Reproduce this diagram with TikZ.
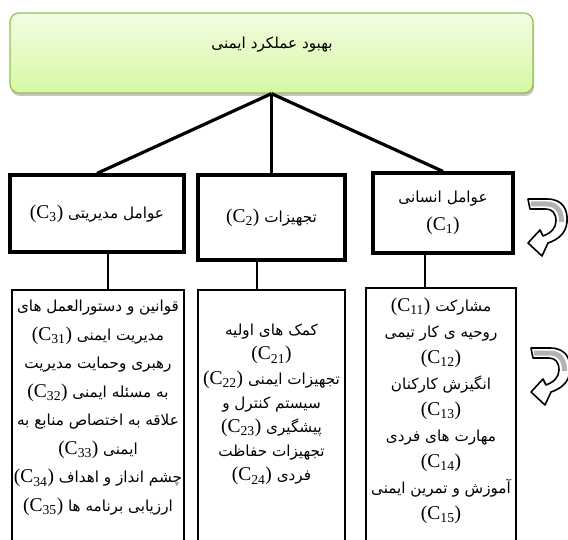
\documentclass[tikz,border=0pt]{standalone}
\usepackage{fontspec}
\setmainfont{Liberation Serif}
\newfontfamily\arabicfont[Script=Arabic,Scale=0.78]{DejaVu Sans}
\TeXXeTstate=1
\usetikzlibrary{shadows}
\definecolor{boxgreen}{RGB}{150,190,85}
\definecolor{toplight}{RGB}{242,253,225}
\definecolor{topdark}{RGB}{214,248,165}
\newcommand{\fatext}[1]{{\arabicfont\beginR #1\endR}}
\newcommand{\ccode}[1]{\beginL{\rmfamily(C\textsubscript{#1})}\endL}
\newcommand{\uturnarrow}[1]{%
  \begin{scope}[shift={#1}]
    \draw[line width=1.6pt, fill=white, line join=round]
      (1,1) -- (20,1) .. controls (36,1) and (41,12) .. (40,24)
      .. controls (39,36) and (30,42) .. (21,45)
      -- (15,58) -- (1,45) -- (13,32) -- (16,38)
      .. controls (24,35) and (29,30) .. (29,23)
      .. controls (29,15) and (25,11) .. (19,11) -- (3,11) -- cycle;
    \draw[line width=5pt, draw=black!30]
      (4,6) -- (20,6) .. controls (30,6) and (35,14) .. (34.5,24);
  \end{scope}}
\begin{document}
\begin{tikzpicture}[x=1pt,y=-1pt,
  topbox/.style={draw=boxgreen, line width=1.3pt, rounded corners=9pt,
    top color=toplight, bottom color=topdark,
    drop shadow={shadow xshift=1pt,shadow yshift=-3pt,fill=black!45},
    minimum width=523pt, minimum height=80pt, inner sep=0pt},
  midbox/.style={draw, line width=3.2pt, inner sep=2pt, align=center,
    font=\fontsize{19.5}{28}\selectfont},
  lowbox/.style={draw, line width=1.8pt, inner sep=0pt},
  lowtext/.style={align=center, inner sep=0pt},
  thickline/.style={line width=3.2pt},
  midline/.style={line width=2.2pt}]
\useasboundingbox (0,0) rectangle (568,540);
\clip (0,0) rectangle (568,540);
% top
\node[topbox] (top) at (271.5,53) {};
\node[font=\fontsize{19.5}{24}\selectfont, inner sep=0pt] (toptxt) at (272,45) {\fatext{بهبود عملکرد ایمنی}};
% level 2
\node[midbox, minimum width=174pt, minimum height=77pt] (ca) at (97,213.5) {\fatext{عوامل مدیریتی \ccode{3}}};
\node[midbox, minimum width=147pt, minimum height=85pt] (cb) at (271.5,217.5) {\fatext{تجهیزات \ccode{2}}};
\node[midbox, minimum width=140pt, minimum height=80pt] (cc) at (443,213) {\fatext{عوامل انسانی}\\\ccode{1}};
\draw[thickline] (top.south) -- (ca.north);
\draw[thickline] (top.south) -- (cb.north);
\draw[thickline] (top.south) -- (cc.north);
% level 3
\node[lowbox, minimum width=172pt, minimum height=255pt] (da) at (98,417.5) {};
\node[lowbox, minimum width=147pt, minimum height=255pt] (db) at (271.5,417.5) {};
\node[lowbox, minimum width=150pt, minimum height=257pt] (dc) at (441,416.5) {};
\draw[midline] ([xshift=11pt]ca.south) -- ([xshift=11pt]ca.south |- da.north);
\draw[midline] ([xshift=-14.5pt]cb.south) -- ([xshift=-14.5pt]cb.south |- db.north);
\draw[midline] ([xshift=-18pt]cc.south) -- ([xshift=-18pt]cc.south |- dc.north);
\node[lowtext, font=\fontsize{19.5}{28.5}\selectfont] (ta) at (98,408) {%
  \fatext{قوانین و دستورالعمل های}\\
  \fatext{مدیریت ایمنی \ccode{31}}\\
  \fatext{رهبری وحمایت مدیریت}\\
  \fatext{به مسئله ایمنی \ccode{32}}\\
  \fatext{علاقه به اختصاص منابع به}\\
  \fatext{ایمنی \ccode{33}}\\
  \fatext{چشم انداز و اهداف \ccode{34}}\\
  \fatext{ارزیابی برنامه ها \ccode{35}}};
\node[lowtext, font=\fontsize{19.5}{24.2}\selectfont] (tb) at (271.5,404.6) {%
  \fatext{کمک های اولیه}\\
  \ccode{21}\\
  \fatext{تجهیزات ایمنی \ccode{22}}\\
  \fatext{سیستم کنترل و}\\
  \fatext{پیشگیری \ccode{23}}\\
  \fatext{تجهیزات حفاظت}\\
  \fatext{فردی \ccode{24}}};
\node[lowtext, font=\fontsize{19.5}{26}\selectfont] (tc) at (441,411) {%
  \fatext{مشارکت \ccode{11}}\\
  \fatext{روحیه ی کار تیمی}\\
  \ccode{12}\\
  \fatext{انگیزش کارکنان}\\
  \ccode{13}\\
  \fatext{مهارت های فردی}\\
  \ccode{14}\\
  \fatext{آموزش و تمرین ایمنی}\\
  \ccode{15}};
% curved arrows
\uturnarrow{(527,198)}
\uturnarrow{(530,347)}
\end{tikzpicture}
\end{document}
